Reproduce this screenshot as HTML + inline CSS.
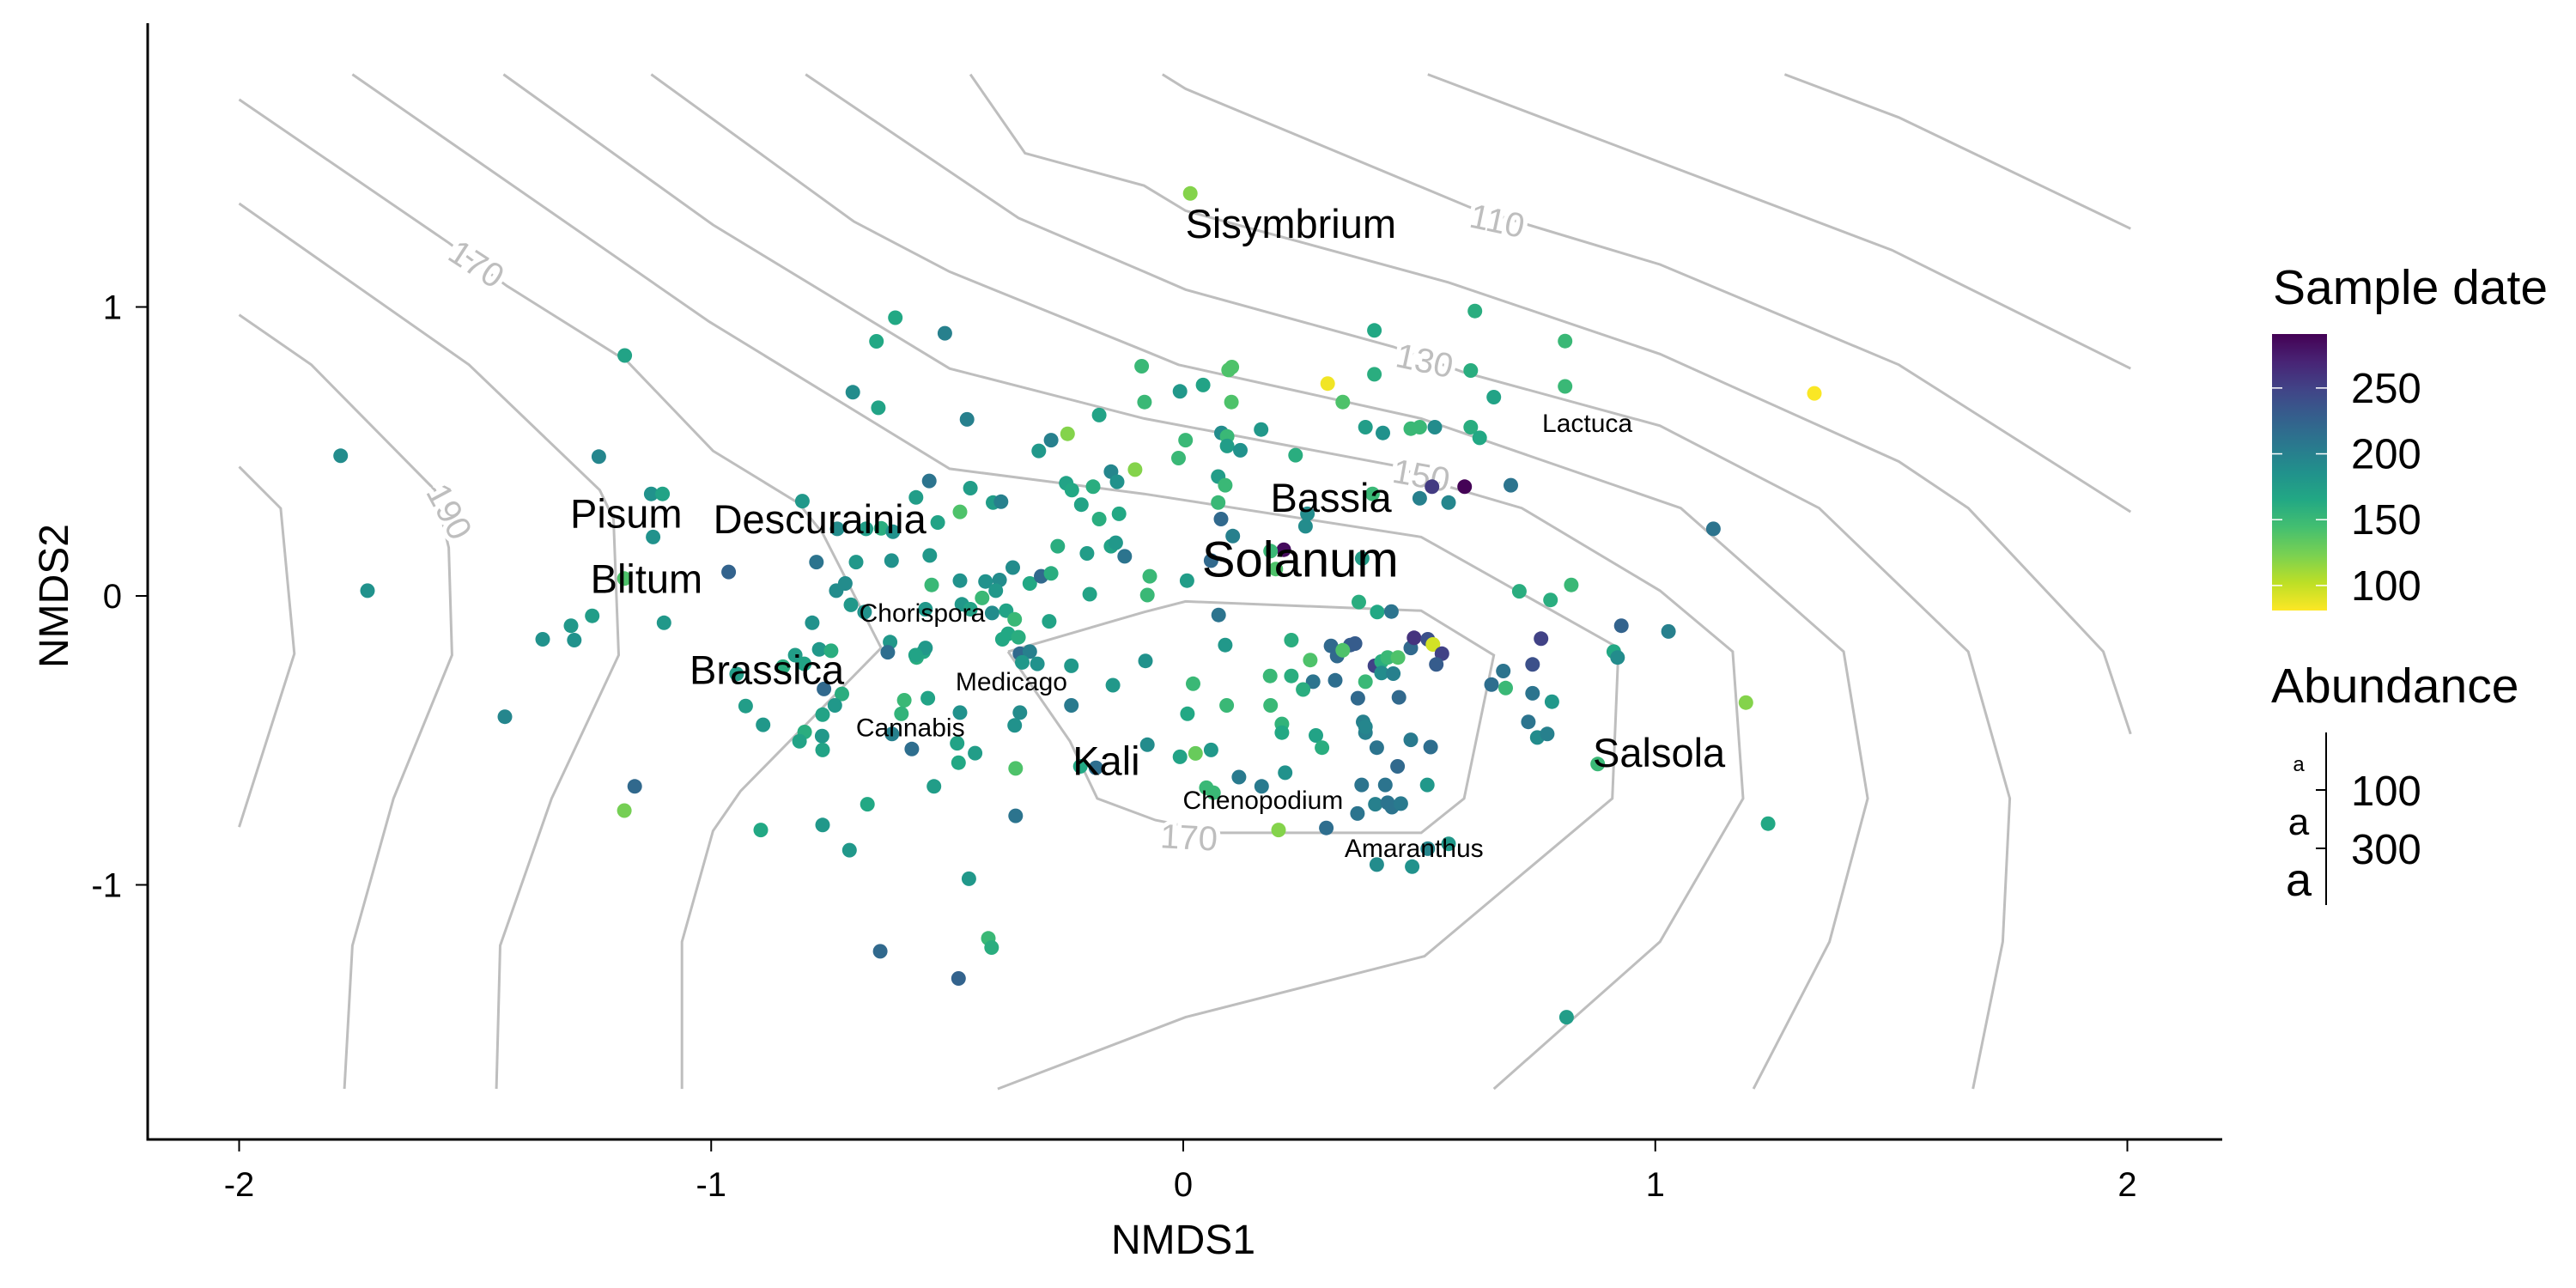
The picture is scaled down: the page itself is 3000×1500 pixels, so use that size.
<!DOCTYPE html>
<html><head><meta charset="utf-8">
<style>
html,body{margin:0;padding:0;background:#fff;}
svg{display:block;font-family:"Liberation Sans",Arial,sans-serif;}
</style></head>
<body>
<svg id="chart" width="3000" height="1500" viewBox="0 0 3000 1500" xmlns="http://www.w3.org/2000/svg">
  <defs>
    <linearGradient id="vir" x1="0" y1="0" x2="0" y2="1">
      <stop offset="0" stop-color="#440154"/><stop offset="0.1" stop-color="#482475"/>
      <stop offset="0.2" stop-color="#414487"/><stop offset="0.3" stop-color="#355f8d"/>
      <stop offset="0.4" stop-color="#2a788e"/><stop offset="0.5" stop-color="#21918c"/>
      <stop offset="0.6" stop-color="#22a884"/><stop offset="0.7" stop-color="#44bf70"/>
      <stop offset="0.8" stop-color="#7ad151"/><stop offset="0.9" stop-color="#bddf26"/>
      <stop offset="1" stop-color="#fde725"/>
    </linearGradient>
  </defs>
  <g id="contours"></g>
  <g id="points"></g>
  <g id="species"></g>
  <g id="axes"></g>
  <g id="legend">
    <text x="2647" y="354" font-size="57">Sample date</text>
    <rect x="2646" y="389" width="64" height="322" fill="url(#vir)"/>
    <g id="cbticks"></g>
    <text x="2645" y="818" font-size="57">Abundance</text>
    <line x1="2709" y1="853" x2="2709" y2="1054" stroke="#000" stroke-width="2"/>
    <line x1="2697" y1="920" x2="2709" y2="920" stroke="#000" stroke-width="2"/>
    <line x1="2697" y1="988" x2="2709" y2="988" stroke="#000" stroke-width="2"/>
    <text x="2677" y="898" font-size="24" text-anchor="middle">a</text>
    <text x="2677" y="972" font-size="44" text-anchor="middle">a</text>
    <text x="2677" y="1043" font-size="54" text-anchor="middle">a</text>
    <text x="2738" y="938" font-size="49">100</text>
    <text x="2738" y="1006" font-size="49">300</text>
  </g>
</svg>
<script>
const nmds1 = [
-1.785,-1.728,-1.183,-1.238,-1.127,-1.103,-1.123,-1.184,-0.963,-1.100,
-1.252,-1.297,-1.357,-1.290,-1.437,-1.162,-1.184,-0.610,-0.505,-0.650,
-0.700,-0.646,-0.458,-0.807,-0.538,-0.566,-0.451,-0.473,-0.520,-0.403,
-0.386,-0.733,-0.672,-0.640,-0.615,-0.537,-0.618,-0.693,-0.777,-0.735,
-0.716,-0.704,-0.675,-0.786,-0.621,-0.626,-0.533,-0.473,-0.419,-0.389,
-0.397,-0.361,-0.325,-0.301,-0.280,-0.546,-0.469,-0.451,-0.426,-0.405,
-0.375,-0.357,-0.284,-0.383,-0.371,-0.349,-0.565,-0.550,-0.546,-0.567,
-0.346,-0.325,-0.309,-0.341,-0.237,-0.149,-0.080,-0.346,-0.357,-0.237,
-0.591,-0.541,-0.597,-0.473,-0.617,-0.575,-0.479,-0.441,-0.476,-0.355,
-0.528,-0.669,-0.355,-0.454,-0.413,-0.406,-0.642,-0.476,-0.764,-0.707,
-0.895,-0.822,-0.803,-0.848,-0.771,-0.746,-0.761,-0.723,-0.738,-0.764,
-0.802,-0.813,-0.765,-0.764,-0.927,-0.890,-0.946,-0.218,-0.185,-0.248,
-0.236,-0.216,-0.191,-0.178,-0.136,-0.153,-0.140,-0.306,-0.280,-0.245,
-0.178,-0.102,-0.082,-0.088,-0.266,-0.204,-0.153,-0.143,-0.124,-0.198,
0.015,0.618,0.405,0.809,0.306,0.405,0.609,0.658,0.809,1.337,
0.338,0.103,0.096,0.042,-0.007,0.102,0.386,0.423,0.482,0.501,
0.533,0.609,0.628,0.165,0.081,0.093,0.093,0.121,0.005,-0.010,
0.238,0.074,0.089,0.074,0.080,0.105,0.401,0.263,0.259,0.501,
0.527,0.596,0.562,0.694,1.123,0.213,0.185,0.196,0.059,0.379,
0.008,-0.071,-0.076,0.075,0.372,0.411,0.441,0.712,0.778,0.822,
0.758,0.928,1.028,0.912,0.920,0.089,0.229,0.269,0.229,0.184,
0.313,0.326,0.354,0.364,0.338,0.275,0.322,0.254,0.386,0.370,
0.406,0.420,0.433,0.455,0.420,0.445,0.482,0.489,0.518,0.529,
0.548,0.536,0.457,0.678,0.653,0.683,0.740,0.740,0.781,0.731,
0.750,0.771,0.878,1.192,1.239,0.812,0.021,0.009,0.092,-0.076,
-0.007,0.026,0.059,0.185,0.209,0.209,0.281,0.294,0.381,0.386,
0.386,0.410,0.482,0.524,0.454,0.118,0.166,0.216,0.049,0.064,
0.378,0.428,0.517,0.369,0.407,0.433,0.442,0.461,0.303,0.202,
0.410,0.485,0.518,0.562
];
const nmds2 = [
0.485,0.018,0.832,0.482,0.353,0.353,0.204,0.060,0.083,-0.093,
-0.069,-0.103,-0.150,-0.153,-0.418,-0.659,-0.743,0.963,0.909,0.881,
0.705,0.651,0.611,0.328,0.398,0.341,0.373,0.291,0.254,0.323,
0.326,0.232,0.232,0.234,0.222,0.140,0.122,0.117,0.117,0.018,
0.043,-0.031,-0.056,-0.093,-0.160,-0.195,0.038,0.053,0.050,0.055,
0.018,0.098,0.043,0.068,0.078,-0.046,-0.029,-0.046,-0.007,-0.059,
-0.051,-0.081,-0.088,-0.150,-0.131,-0.143,-0.213,-0.193,-0.180,-0.205,
-0.200,-0.193,-0.235,-0.230,-0.242,-0.309,-0.225,-0.404,-0.448,-0.379,
-0.361,-0.354,-0.408,-0.404,-0.478,-0.530,-0.510,-0.544,-0.577,-0.597,
-0.659,-0.721,-0.761,-0.979,-1.185,-1.217,-1.230,-1.324,-0.793,-0.880,
-0.810,-0.205,-0.235,-0.245,-0.185,-0.190,-0.322,-0.339,-0.379,-0.411,
-0.471,-0.503,-0.485,-0.533,-0.381,-0.446,-0.270,-0.590,-0.595,0.390,
0.366,0.316,0.378,0.266,0.284,0.430,0.395,0.502,0.539,0.561,
0.626,0.437,0.671,0.795,0.172,0.147,0.172,0.184,0.137,0.006,
1.393,0.986,0.919,0.882,0.735,0.767,0.780,0.688,0.725,0.701,
0.671,0.792,0.782,0.730,0.708,0.671,0.584,0.564,0.579,0.584,
0.584,0.584,0.547,0.576,0.564,0.552,0.519,0.504,0.539,0.477,
0.487,0.413,0.383,0.323,0.266,0.207,0.353,0.284,0.241,0.338,
0.378,0.378,0.323,0.383,0.232,0.160,0.155,0.093,0.122,0.130,
0.053,0.068,0.003,-0.066,-0.021,-0.056,-0.054,0.016,-0.014,0.038,
-0.148,-0.103,-0.123,-0.193,-0.213,-0.170,-0.153,-0.222,-0.277,-0.277,
-0.173,-0.208,-0.170,-0.165,-0.188,-0.297,-0.292,-0.324,-0.297,-0.354,
-0.242,-0.227,-0.213,-0.213,-0.267,-0.269,-0.180,-0.145,-0.150,-0.168,
-0.200,-0.237,-0.351,-0.260,-0.307,-0.319,-0.237,-0.337,-0.366,-0.436,
-0.490,-0.478,-0.582,-0.369,-0.788,-1.458,-0.304,-0.408,-0.379,-0.515,
-0.557,-0.545,-0.533,-0.379,-0.443,-0.473,-0.483,-0.525,-0.436,-0.473,
-0.453,-0.525,-0.498,-0.523,-0.590,-0.627,-0.659,-0.612,-0.664,-0.681,
-0.654,-0.654,-0.654,-0.753,-0.721,-0.716,-0.731,-0.719,-0.803,-0.810,
-0.930,-0.937,-0.875,-0.858
];
const sampleDate = [
190,185,170,195,185,170,185,140,225,180,
175,180,185,185,195,220,125,165,200,165,
190,170,200,180,210,175,175,140,170,175,
200,190,175,160,185,180,185,180,210,190,
190,180,185,185,180,215,150,185,185,190,
180,190,165,220,160,180,180,170,150,190,
170,150,170,165,165,160,160,165,180,170,
220,200,185,180,180,180,185,190,185,205,
150,170,155,185,200,215,170,175,165,140,
175,165,210,180,150,160,220,225,180,180,
165,175,170,160,180,160,220,160,180,170,
160,170,180,170,175,180,175,165,215,170,
165,170,160,160,165,195,185,180,200,120,
170,120,150,150,160,175,170,180,210,170,
120,160,165,150,85,160,160,170,150,82,
140,140,140,170,180,140,175,185,150,150,
190,160,165,180,190,150,175,185,150,150,
160,175,150,150,220,200,150,190,190,200,
255,290,195,210,210,285,150,140,220,175,
175,150,150,210,160,165,210,160,160,150,
250,225,200,165,190,180,160,140,160,150,
220,220,230,230,140,210,215,160,150,220,
250,160,150,140,190,200,220,260,240,95,
250,230,220,210,215,150,240,210,180,210,
190,200,150,120,165,175,150,165,150,190,
170,130,180,150,155,165,170,160,200,200,
195,210,205,215,220,205,205,185,150,150,
210,210,180,210,200,210,210,205,215,120,
190,185,195,180
];
const speciesNames = ["Sisymbrium","Solanum","Bassia","Lactuca","Salsola","Chenopodium","Amaranthus","Kali","Pisum","Descurainia","Blitum","Brassica","Chorispora","Medicago","Cannabis"];
const speciesX = [0.228,0.248,0.313,0.856,1.008,0.169,0.489,-0.163,-1.180,-0.770,-1.137,-0.882,-0.553,-0.364,-0.578];
const speciesY = [1.288,0.125,0.341,0.596,-0.542,-0.709,-0.875,-0.570,0.286,0.266,0.060,-0.255,-0.061,-0.299,-0.458];
const speciesAbundance = [200,400,200,50,200,50,50,200,200,200,200,200,50,50,50];
const xTicks = [-2,-1,0,1,2];
const yTicks = [-1,0,1];
const colorTicks = [100,150,200,250];
const contourPaths = [
 [[-2.0,0.447],[-1.912,0.303],[-1.883,-0.200],[-2.0,-0.800]],
 [[-2.0,0.973],[-1.847,0.800],[-1.585,0.366],[-1.556,0.167],[-1.549,-0.205],[-1.673,-0.701],[-1.760,-1.210],[-1.777,-1.706]],
 [[-2.0,1.358],[-1.513,0.800],[-1.236,0.366],[-1.207,0.266],[-1.196,-0.205],[-1.338,-0.701],[-1.447,-1.210],[-1.455,-1.706]],
 [[-2.0,1.718],[-1.556,1.222],[-1.433,1.073],[-1.178,0.812],[-0.996,0.502],[-0.815,0.321],[-0.764,0.217],[-0.640,-0.180],[-0.938,-0.676],[-0.996,-0.813],[-1.062,-1.197],[-1.062,-1.706]],
 [[-1.760,1.805],[-1.004,0.949],[-0.495,0.440],[-0.083,0.353],[0.504,0.204],[0.922,-0.180],[0.909,-0.701],[0.511,-1.247],[0.005,-1.458],[-0.393,-1.706]],
 [[-1.440,1.805],[-0.996,1.284],[-0.495,0.787],[-0.083,0.614],[0.445,0.452],[0.562,0.378],[0.717,0.304],[1.010,0.018],[1.164,-0.193],[1.186,-0.701],[1.010,-1.197],[0.658,-1.706]],
 [[-1.127,1.805],[-0.698,1.296],[-0.495,1.122],[-0.083,0.849],[-0.010,0.800],[0.504,0.614],[1.054,0.304],[1.399,-0.193],[1.450,-0.701],[1.369,-1.197],[1.208,-1.706]],
 [[-0.800,1.805],[-0.349,1.308],[-0.083,1.122],[0.005,1.060],[0.445,0.862],[0.592,0.775],[1.010,0.589],[1.347,0.304],[1.663,-0.193],[1.751,-0.701],[1.736,-1.197],[1.673,-1.706]],
 [[-0.451,1.805],[-0.335,1.532],[-0.083,1.420],[0.005,1.333],[0.562,1.085],[1.010,0.837],[1.516,0.465],[1.663,0.304],[1.949,-0.193],[2.007,-0.478]],
 [[-0.044,1.805],[0.005,1.755],[0.606,1.346],[1.010,1.147],[1.516,0.800],[2.007,0.291]],
 [[0.518,1.805],[1.501,1.197],[2.007,0.787]],
 [[-0.371,-0.193],[-0.083,-0.056],[0.005,-0.019],[0.504,-0.051],[0.658,-0.205],[0.595,-0.701],[0.504,-0.820],[0.078,-0.820],[-0.059,-0.776],[-0.182,-0.701],[-0.240,-0.503],[-0.371,-0.193]]
];
const extraContour = [[1.274,1.805],[1.516,1.656],[2.007,1.271]];
const contourLabelText = ["190","170","150","130","110","170"];
const contourLabelX = [-1.556,-1.498,0.504,0.511,0.665,0.012];
const contourLabelY = [0.291,1.147,0.415,0.812,1.296,-0.838];
const contourLabelAngle = [62,33,10,12,12,3];

const NS="http://www.w3.org/2000/svg";
function sx(v){return 1378+v*549.75;}
function sy(v){return 694-v*336.5;}
const dMin=81, dMax=291;
const vir=[[68,1,84],[72,36,117],[65,68,135],[53,95,141],[42,120,142],[33,145,140],[34,168,132],[68,191,112],[122,209,81],[189,223,38],[253,231,37]];
function colorFor(d){
  let t=(dMax-d)/(dMax-dMin); t=Math.max(0,Math.min(1,t));
  const p=t*10, i=Math.min(9,Math.floor(p)), f=p-i;
  const a=vir[i], b=vir[i+1];
  return "rgb("+a.map((c,k)=>Math.round(c+(b[k]-c)*f)).join(",")+")";
}
function mk(tag, attrs, parent){
  const e=document.createElementNS(NS,tag);
  for(const k in attrs) e.setAttribute(k,attrs[k]);
  parent.appendChild(e); return e;
}
const cg=document.getElementById("contours");
const allPaths=contourPaths.concat([extraContour]);
allPaths.forEach((pts,i)=>{
  const p=mk("polyline",{points:pts.map(q=>sx(q[0]).toFixed(1)+","+sy(q[1]).toFixed(1)).join(" "),fill:"none",stroke:"#bebebe","stroke-width":"3"},cg);
  
  
});
contourLabelText.forEach((t,i)=>{
  const x=sx(contourLabelX[i]), y=sy(contourLabelY[i]);
  const e=mk("text",{x:x,y:y,"font-size":"40","text-anchor":"middle","dominant-baseline":"central",fill:"#bebebe",stroke:"#fff","stroke-width":"10","paint-order":"stroke",transform:"rotate("+contourLabelAngle[i]+" "+x+" "+y+")"},cg);
  e.textContent=t;
  
  
});
const pg=document.getElementById("points");
for(let i=0;i<nmds1.length;i++){
  const c=mk("circle",{cx:sx(nmds1[i]).toFixed(1),cy:sy(nmds2[i]).toFixed(1),r:"8.5",fill:colorFor(sampleDate[i])},pg);
  
  
}
const sg=document.getElementById("species");
speciesNames.forEach((n,i)=>{
  const a=speciesAbundance[i];
  const fs=a>=300?58:(a>=100?47:30);
  const e=mk("text",{x:sx(speciesX[i]).toFixed(1),y:sy(speciesY[i]).toFixed(1),"font-size":fs,"text-anchor":"middle","dominant-baseline":"central",fill:"#000"},sg);
  e.textContent=n;
  
  
});
const ag=document.getElementById("axes");
let l=mk("line",{x1:172,y1:27,x2:172,y2:1328,stroke:"#000","stroke-width":"3"},ag);


l=mk("line",{x1:170.5,y1:1327,x2:2588,y2:1327,stroke:"#000","stroke-width":"3"},ag);


xTicks.forEach(v=>{
  const t=mk("line",{x1:sx(v),y1:1327,x2:sx(v),y2:1341,stroke:"#000","stroke-width":"2"},ag);
  
  
  const tx=mk("text",{x:sx(v),y:1393,"font-size":"40","text-anchor":"middle",fill:"#000"},ag);
  tx.textContent=String(v);
  
  
});
yTicks.forEach(v=>{
  const t=mk("line",{x1:158,y1:sy(v),x2:172,y2:sy(v),stroke:"#000","stroke-width":"2"},ag);
  
  
  const tx=mk("text",{x:142,y:sy(v)+14,"font-size":"40","text-anchor":"end",fill:"#000"},ag);
  tx.textContent=String(v);
  
  
});
let tt=mk("text",{x:1378,y:1460,"font-size":"48","text-anchor":"middle",fill:"#000"},ag);
tt.textContent="NMDS1";


tt=mk("text",{x:0,y:0,"font-size":"48","text-anchor":"middle",fill:"#000",transform:"translate(79,694) rotate(-90)"},ag);
tt.textContent="NMDS2";


const cb=document.getElementById("cbticks");
function cy(v){return 711-(v-dMin)/(dMax-dMin)*322;}
colorTicks.forEach(v=>{
  const y=cy(v);
  let a=mk("line",{x1:2646,y1:y,x2:2658,y2:y,stroke:"#fff","stroke-width":"1.5"},cb);
  
  
  a=mk("line",{x1:2697,y1:y,x2:2710,y2:y,stroke:"#fff","stroke-width":"1.5"},cb);
  
  
  const tx=mk("text",{x:2738,y:y+17,"font-size":"49",fill:"#000"},cb);
  tx.textContent=String(v);
  
  
});
</script>
</body></html>
